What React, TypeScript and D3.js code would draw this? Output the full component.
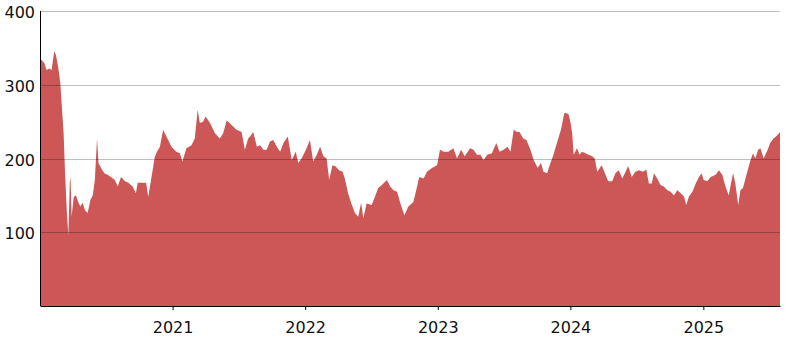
import React, { useEffect, useRef } from 'react';
import * as d3 from 'd3';

// daily close, every 1-2 weeks
const dates = [
	'2020-01-02', '2020-01-14', '2020-01-20', '2020-01-28', '2020-02-03', '2020-02-10', '2020-02-15', '2020-02-21',
	'2020-02-27', '2020-03-01', '2020-03-07', '2020-03-11', '2020-03-16', '2020-03-20', '2020-03-24', '2020-03-26',
	'2020-03-29', '2020-04-04', '2020-04-10', '2020-04-17', '2020-04-22', '2020-04-28', '2020-05-05', '2020-05-12',
	'2020-05-20', '2020-05-26', '2020-06-01', '2020-06-07', '2020-06-11', '2020-06-18', '2020-06-27', '2020-07-06',
	'2020-07-15', '2020-07-26', '2020-08-03', '2020-08-12', '2020-08-23', '2020-09-01', '2020-09-13', '2020-09-22',
	'2020-09-27', '2020-10-11', '2020-10-20', '2020-10-26', '2020-11-04', '2020-11-13', '2020-11-17', '2020-11-27',
	'2020-12-06', '2020-12-15', '2020-12-29', '2021-01-11', '2021-01-21', '2021-01-28', '2021-02-08', '2021-02-22',
	'2021-03-03', '2021-03-11', '2021-03-17', '2021-03-26', '2021-04-02', '2021-04-14', '2021-04-28', '2021-05-11',
	'2021-05-20', '2021-05-30', '2021-06-13', '2021-06-26', '2021-07-10', '2021-07-19', '2021-07-28', '2021-08-02',
	'2021-08-11', '2021-08-21', '2021-08-30', '2021-09-08', '2021-09-17', '2021-09-26', '2021-10-05', '2021-10-15',
	'2021-10-24', '2021-11-02', '2021-11-14', '2021-11-25', '2021-12-06', '2021-12-13', '2021-12-22', '2022-01-03',
	'2022-01-14', '2022-01-23', '2022-02-02', '2022-02-11', '2022-02-20', '2022-03-01', '2022-03-08', '2022-03-17',
	'2022-03-26', '2022-04-04', '2022-04-14', '2022-04-20', '2022-04-29', '2022-05-08', '2022-05-18', '2022-05-27',
	'2022-06-04', '2022-06-10', '2022-06-19', '2022-07-03', '2022-07-12', '2022-07-21', '2022-07-31', '2022-08-14',
	'2022-08-23', '2022-09-01', '2022-09-11', '2022-09-20', '2022-10-01', '2022-10-12', '2022-10-26', '2022-11-05',
	'2022-11-11', '2022-11-23', '2022-12-02', '2022-12-16', '2022-12-30', '2023-01-07', '2023-01-17', '2023-01-30',
	'2023-02-13', '2023-02-23', '2023-03-06', '2023-03-16', '2023-03-31', '2023-04-09', '2023-04-19', '2023-04-28',
	'2023-05-07', '2023-05-17', '2023-05-30', '2023-06-11', '2023-06-20', '2023-07-01', '2023-07-12', '2023-07-20',
	'2023-07-29', '2023-08-07', '2023-08-14', '2023-08-24', '2023-09-02', '2023-09-13', '2023-09-22', '2023-10-03',
	'2023-10-12', '2023-10-19', '2023-10-29', '2023-11-05', '2023-11-14', '2023-11-25', '2023-12-06', '2023-12-15',
	'2023-12-18', '2023-12-27', '2024-01-01', '2024-01-06', '2024-01-10', '2024-01-19', '2024-01-26', '2024-02-02',
	'2024-02-11', '2024-02-20', '2024-03-01', '2024-03-08', '2024-03-15', '2024-03-27', '2024-04-05', '2024-04-14',
	'2024-04-25', '2024-05-04', '2024-05-13', '2024-05-23', '2024-06-01', '2024-06-08', '2024-06-18', '2024-06-28',
	'2024-07-08', '2024-07-19', '2024-07-28', '2024-08-04', '2024-08-12', '2024-08-18', '2024-08-27', '2024-09-05',
	'2024-09-14', '2024-09-24', '2024-10-03', '2024-10-12', '2024-10-21', '2024-10-31', '2024-11-09', '2024-11-15',
	'2024-11-22', '2024-12-02', '2024-12-11', '2024-12-20', '2024-12-27', '2025-01-02', '2025-01-12', '2025-01-21',
	'2025-02-04', '2025-02-13', '2025-02-22', '2025-03-03', '2025-03-12', '2025-03-18', '2025-03-24', '2025-03-30',
	'2025-04-07', '2025-04-13', '2025-04-20', '2025-04-27', '2025-05-03', '2025-05-11', '2025-05-18', '2025-05-24',
	'2025-06-01', '2025-06-07', '2025-06-16', '2025-06-27', '2025-07-04', '2025-07-13', '2025-07-20', '2025-07-28',
	'2025-07-31'
];

const values = [
	336, 329, 320, 322, 320, 345, 340, 324,
	302, 279, 234, 180, 126, 96, 167, 175,
	121, 148, 150, 140, 135, 140, 130, 126,
	144, 150, 171, 227, 194, 187, 180, 178,
	175, 171, 162, 175, 169, 167, 162, 153,
	167, 167, 167, 148, 175, 202, 207, 216,
	239, 230, 216, 209, 207, 196, 214, 218,
	227, 266, 248, 250, 257, 248, 234, 227,
	234, 252, 245, 239, 236, 212, 227, 230,
	236, 216, 218, 212, 212, 223, 225, 216,
	209, 221, 230, 198, 209, 194, 200, 212,
	225, 196, 205, 216, 203, 200, 171, 191,
	189, 184, 182, 173, 153, 139, 126, 121,
	140, 119, 139, 137, 148, 160, 164, 171,
	162, 157, 155, 139, 123, 135, 141, 162,
	175, 173, 182, 187, 191, 212, 209, 209,
	214, 200, 212, 203, 214, 212, 205, 205,
	198, 205, 207, 221, 209, 212, 216, 209,
	239, 236, 236, 227, 225, 212, 198, 187,
	194, 182, 180, 191, 203, 221, 239, 261,
	262, 260, 250, 234, 205, 214, 205, 209,
	207, 205, 203, 200, 182, 191, 180, 169,
	169, 180, 184, 173, 182, 190, 175, 182,
	184, 182, 185, 166, 166, 180, 173, 164,
	162, 157, 155, 150, 157, 153, 148, 137,
	148, 155, 166, 175, 180, 171, 169, 175,
	178, 184, 178, 162, 150, 166, 180, 166,
	137, 157, 160, 173, 184, 198, 207, 200,
	212, 214, 200, 212, 221, 227, 230, 234,
	236
];

const yTicks = [100, 200, 300, 400];

const width = 791;
const height = 341;
const margin = { top: 11, right: 11, bottom: 35, left: 40 };

export default function App() {
	const ref = useRef<SVGSVGElement>(null);

	useEffect(() => {
		const svg = d3.select(ref.current);
		svg.selectAll('*').remove();

		const data = dates.map((d, i) => ({ date: new Date(d + 'T00:00:00'), value: values[i] }));

		const x = d3.scaleTime()
			.domain(d3.extent(data, d => d.date) as [Date, Date])
			.range([margin.left, width - margin.right]);

		const y = d3.scaleLinear()
			.domain([0, 400])
			.range([height - margin.bottom, margin.top]);

		const area = d3.area<{ date: Date, value: number }>()
			.x(d => x(d.date))
			.y0(y(0))
			.y1(d => y(d.value));

		svg.append('path')
			.datum(data)
			.attr('fill', '#cd5656')
			.attr('d', area);

		// grid goes on top of the area, semi-transparent so it darkens the red
		svg.append('g')
			.selectAll('line')
			.data(yTicks)
			.join('line')
			.attr('x1', margin.left)
			.attr('x2', width - margin.right)
			.attr('y1', d => Math.round(y(d)) + 0.5)
			.attr('y2', d => Math.round(y(d)) + 0.5)
			.attr('stroke', 'rgba(0,0,0,0.25)')
			.attr('stroke-width', 1);

		const xAxis = d3.axisBottom(x)
			.ticks(d3.timeYear.every(1))
			.tickFormat(d3.timeFormat('%Y') as any)
			.tickSizeInner(4)
			.tickSizeOuter(0);

		const gx = svg.append('g')
			.attr('transform', 'translate(0,' + (height - margin.bottom) + ')')
			.call(xAxis);
		gx.select('.domain').attr('stroke', '#000');
		gx.selectAll('.tick line').attr('stroke', '#000');
		gx.selectAll('.tick text')
			.attr('font-family', 'DejaVu Sans, Verdana, sans-serif')
			.attr('font-size', 16)
			.attr('fill', '#111')
			.attr('dy', '1.25em');

		// y axis: just the line and labels, no tick marks
		svg.append('line')
			.attr('x1', margin.left + 0.5)
			.attr('x2', margin.left + 0.5)
			.attr('y1', margin.top)
			.attr('y2', height - margin.bottom)
			.attr('stroke', '#000');

		svg.append('g')
			.selectAll('text')
			.data(yTicks)
			.join('text')
			.attr('x', margin.left - 5)
			.attr('y', d => y(d) + 1.5)
			.attr('dy', '0.35em')
			.attr('text-anchor', 'end')
			.attr('font-family', 'DejaVu Sans, Verdana, sans-serif')
			.attr('font-size', 16)
			.attr('fill', '#111')
			.text(d => d);
	}, []);

	return (
		<svg
			ref={ref}
			width={width}
			height={height}
			style={{ position: 'absolute', left: 0, top: 0, background: '#fff' }}
		/>
	);
}
